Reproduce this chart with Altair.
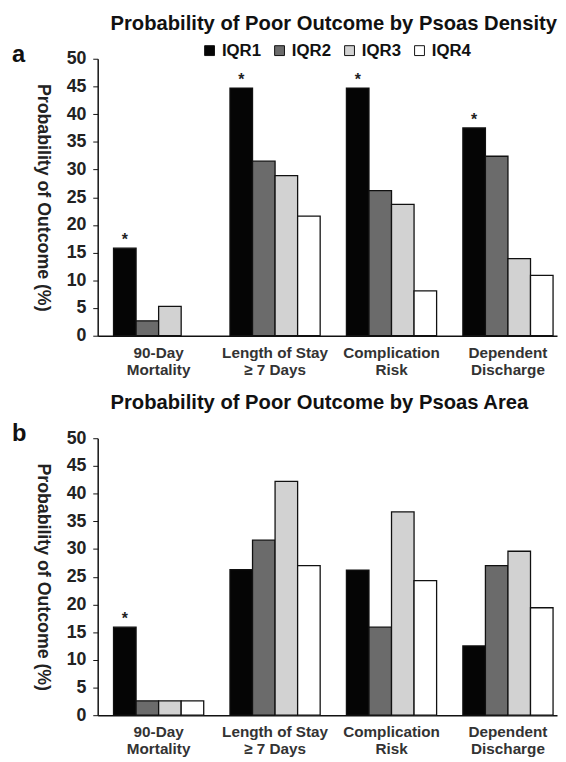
import altair as alt
import pandas as pd

outcomes = ["90-Day|Mortality", "Length of Stay|≥ 7 Days", "Complication|Risk", "Dependent|Discharge"]
groups = ["IQR1", "IQR2", "IQR3", "IQR4"]
colors = ["#050505", "#6b6b6b", "#d2d2d2", "#ffffff"]

# Panel a: Psoas density
density_iqr1 = [15.8, 44.7, 44.7, 37.5]
density_iqr2 = [2.7, 31.5, 26.2, 32.4]
density_iqr3 = [5.3, 28.9, 23.7, 13.9]
density_iqr4 = [0.0, 21.6, 8.1, 10.9]
density_sig = [True, True, True, True]

# Panel b: Psoas area
area_iqr1 = [15.9, 26.3, 26.2, 12.5]
area_iqr2 = [2.6, 31.6, 15.9, 27.0]
area_iqr3 = [2.6, 42.2, 36.7, 29.6]
area_iqr4 = [2.6, 27.0, 24.3, 19.4]
area_sig = [True, False, False, False]

title_a = "Probability of Poor Outcome by Psoas Density"
title_b = "Probability of Poor Outcome by Psoas Area"
y_title = "Probability of Outcome (%)"

W, H = 466, 281


def panel(title, letter, series, sig):
    rows = []
    for g, vals in zip(groups, series):
        for o, v in zip(outcomes, vals):
            rows.append({"outcome": o, "group": g, "value": v})
    df = pd.DataFrame(rows)
    bars_df = df[df["value"] > 0]
    star_df = pd.DataFrame(
        [{"outcome": o, "group": "IQR1", "value": v, "s": "*"}
         for o, v, s in zip(outcomes, series[0], sig) if s]
    )

    x_enc = alt.X(
        "outcome:N", sort=outcomes,
        scale=alt.Scale(domain=outcomes, paddingInner=0.2255, paddingOuter=0.085, align=0.8),
        axis=alt.Axis(
            title=None, labelAngle=0, labelExpr="split(datum.label, '|')",
            ticks=False, labelPadding=10, labelFontSize=15.5, labelFontWeight="bold",
            labelColor="#333333", labelLineHeight=17, domainColor="#111111",
            domainWidth=1.5, labelFont="Liberation Sans",
        ),
    )
    xo_enc = alt.XOffset("group:N", sort=groups, scale=alt.Scale(domain=groups))
    y_enc = alt.Y(
        "value:Q",
        scale=alt.Scale(domain=[0, 50], nice=False),
        axis=alt.Axis(
            values=list(range(0, 55, 5)), title=y_title, titleAngle=90,
            titleFontSize=18, titleFontWeight="bold", titleColor="#222222",
            titleFont="Liberation Sans", titleBaseline="top", titlePadding=15,
            labelFontSize=18, labelFontWeight="bold", labelColor="#222222",
            labelFont="Liberation Sans", labelPadding=7, tickSize=5,
            tickColor="#111111", domainColor="#111111", domainWidth=1.5, grid=False,
        ),
    )

    bars = alt.Chart(bars_df).mark_bar(stroke="#111111", strokeWidth=1.3).encode(
        x=x_enc,
        xOffset=xo_enc,
        y=y_enc,
        color=alt.Color(
            "group:N",
            scale=alt.Scale(domain=groups, range=colors),
            legend=alt.Legend(
                title=None, orient="none", legendX=105, legendY=-17,
                direction="horizontal", symbolType="square", symbolSize=100,
                symbolStrokeColor="#111111", symbolStrokeWidth=1,
                labelFontSize=17, labelFontWeight="bold", labelColor="#111111",
                labelFont="Liberation Sans", labelOffset=4, columnPadding=10,
                padding=0,
            ),
        ),
    )

    stars = alt.Chart(star_df).mark_text(
        fontSize=16, fontWeight="bold", baseline="alphabetic", dy=-3,
        color="#222222", font="Liberation Sans",
    ).encode(x=x_enc, xOffset=xo_enc, y=y_enc, text="s:N")

    letter_mark = alt.Chart(pd.DataFrame({"t": [letter]})).mark_text(
        fontSize=24, fontWeight="bold", align="left", baseline="alphabetic",
        color="#111111", font="Liberation Sans",
    ).encode(x=alt.value(-87), y=alt.value(3), text="t:N")

    return alt.layer(bars, stars, letter_mark).properties(
        width=W, height=H,
        title=alt.TitleParams(
            text=title, anchor="start", frame="group", dx=13, offset=9,
            fontSize=20.5, fontWeight="bold", color="#111111", font="Liberation Sans",
        ),
    )


top = panel(title_a, "a", [density_iqr1, density_iqr2, density_iqr3, density_iqr4], density_sig)
bottom = panel(title_b, "b", [area_iqr1, area_iqr2, area_iqr3, area_iqr4], area_sig)

chart = alt.vconcat(top, bottom, spacing=15).properties(
    padding={"left": 4, "top": 0, "right": 0, "bottom": 0}
).configure_view(stroke=None).resolve_scale(color="shared")

chart.save("out.html", embed_options={"renderer": "svg", "actions": False})
